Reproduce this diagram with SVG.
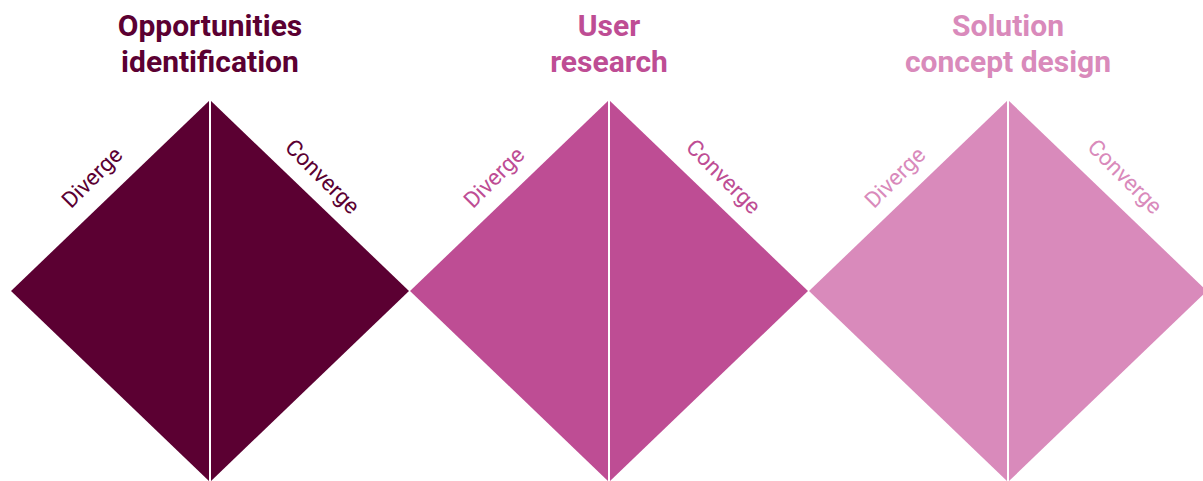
<svg xmlns="http://www.w3.org/2000/svg" width="1203" height="481" viewBox="0 0 1203 481">
  <style>
    .title { font-family: Roboto, "Liberation Sans", sans-serif; font-weight: 700; font-size: 30px; text-anchor: middle; }
    .phase { font-family: Roboto, "Liberation Sans", sans-serif; font-weight: 400; font-size: 22.5px; text-anchor: middle; }
    .divider { stroke: #ffffff; stroke-width: 2; }
    .c1 { fill: #5b0032; }
    .c2 { fill: #be4d94; }
    .c3 { fill: #d98abb; }
  </style>
  <rect width="1203" height="481" fill="#ffffff"/>

  <!-- Stage 1 -->
  <g id="opportunities-identification">
    <polygon class="c1" points="210,100 409,291 210,482 11,291"/>
    <line class="divider" x1="210" y1="100" x2="210" y2="482"/>
    <text class="title c1" x="210" y="36">Opportunities</text>
    <text class="title c1" x="210" y="72">identification</text>
    <text class="phase c1" transform="translate(93.5,179) rotate(-45)" y="5.5">Diverge</text>
    <text class="phase c1" transform="translate(321,178) rotate(45)" y="5.5">Converge</text>
  </g>

  <!-- Stage 2 -->
  <g id="user-research">
    <polygon class="c2" points="609,100 808,291 609,482 410,291"/>
    <line class="divider" x1="609" y1="100" x2="609" y2="482"/>
    <text class="title c2" x="609" y="36">User</text>
    <text class="title c2" x="609" y="72">research</text>
    <text class="phase c2" transform="translate(495.5,179) rotate(-45)" y="5.5">Diverge</text>
    <text class="phase c2" transform="translate(722,178) rotate(45)" y="5.5">Converge</text>
  </g>

  <!-- Stage 3 -->
  <g id="solution-concept-design">
    <polygon class="c3" points="1008,100 1207,291 1008,482 809,291"/>
    <line class="divider" x1="1008" y1="100" x2="1008" y2="482"/>
    <text class="title c3" x="1008" y="36">Solution</text>
    <text class="title c3" x="1008" y="72">concept design</text>
    <text class="phase c3" transform="translate(896.5,179) rotate(-45)" y="5.5">Diverge</text>
    <text class="phase c3" transform="translate(1123.5,178) rotate(45)" y="5.5">Converge</text>
  </g>

  <g id="connectors"></g>
</svg>
